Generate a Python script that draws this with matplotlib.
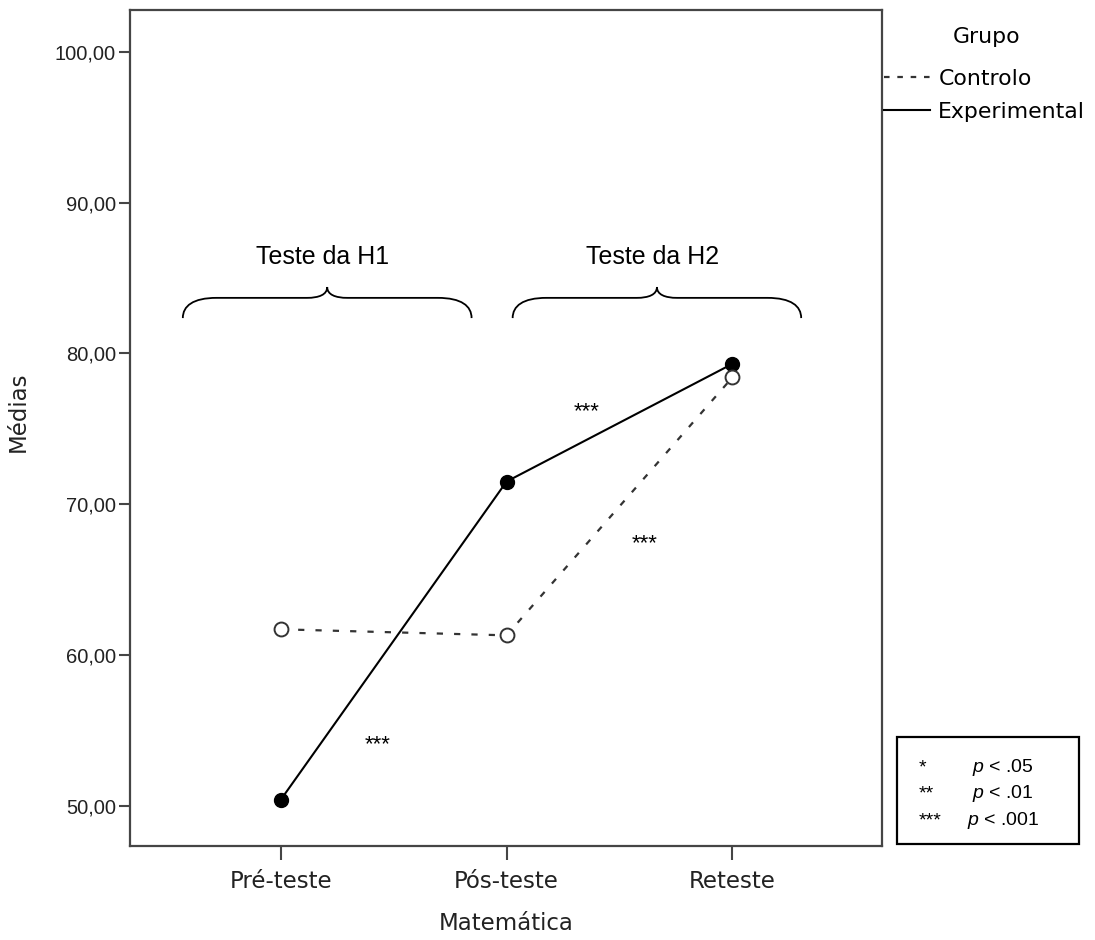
import numpy as np
import matplotlib
matplotlib.use("Agg")
import matplotlib.pyplot as plt
from matplotlib.lines import Line2D
from matplotlib.path import Path
from matplotlib.patches import PathPatch, Rectangle

plt.rcParams['font.family'] = ['DejaVu Sans']
plt.rcParams['mathtext.fontset'] = 'custom'
plt.rcParams['mathtext.it'] = 'Liberation Sans:italic'
plt.rcParams['mathtext.rm'] = 'Liberation Sans'

# medias por momento de avaliacao
momentos = ['Pré-teste', 'Pós-teste', 'Reteste']
experimental = [50.4, 71.5, 79.3]
controlo = [61.7, 61.3, 78.4]
yticks = [50, 60, 70, 80, 90, 100]

# asteriscos de significancia (x, y) e chavetas das hipoteses
estrelas = [(0.43, 53.7), (1.354, 75.8), (1.611, 67.0)]
hipoteses = ['Teste da H1', 'Teste da H2']
chavetas = [(-0.434, 0.845), (1.027, 2.305)]
legenda_p = [('*', r'$p$ < .05'), ('**', r'$p$ < .01'), ('***', r'$p$ < .001')]

W, H = 1095, 940
fig = plt.figure(figsize=(W / 100, H / 100), dpi=100)
ax = fig.add_axes([130 / W, 1 - 846 / H, 752 / W, 836 / H])

x = np.arange(len(momentos))
eixo = '#454545'

ax.plot(x, experimental, color='black', lw=1.5, marker='o', ms=10,
        mfc='black', mec='black', zorder=3)
ax.plot(x, controlo, color='#333333', lw=1.6, ls=(0, (2.8, 5.0)), marker='o',
        ms=10, mfc='white', mec='#333333', mew=1.4, zorder=3)

ax.set_xlim(-0.668, 2.663)
ax.set_ylim(47.33, 102.77)
ax.set_xticks(x)
ax.set_xticklabels(momentos, fontsize=16.5)
ax.set_yticks(yticks)
ax.set_yticklabels([f'{v:.2f}'.replace('.', ',') for v in yticks],
                   fontsize=14.5, family='Liberation Sans', color='#222222')
ax.tick_params(axis='y', length=8, width=1.5, color=eixo, pad=2)
ax.tick_params(axis='x', length=10, width=1.5, color=eixo, pad=7, labelcolor='#222222')
for s in ax.spines.values():
    s.set_color(eixo)
    s.set_linewidth(1.6)

ax.set_xlabel('Matemática', fontsize=16.5, labelpad=14, color='#222222')
ax.set_ylabel('Médias', fontsize=16.5, color='#222222')
ax.yaxis.set_label_coords(-0.149, 0.52)
ax.yaxis.label.set_verticalalignment('center')

for (sx, sy) in estrelas:
    ax.text(sx, sy, '***', ha='center', va='baseline', fontsize=16,
            family='Liberation Sans')


def chaveta(ax, x0, x1, ye=82.34, ym=83.68, yt=84.4, r=0.15, rc=0.09):
    xm = (x0 + x1) / 2
    verts = [(x0, ye),
             (x0, ye + 0.6 * (ym - ye)), (x0 + 0.3 * r, ym), (x0 + r, ym),
             (xm - rc, ym),
             (xm - 0.4 * rc, ym), (xm, ym + 0.3 * (yt - ym)), (xm, yt),
             (xm, ym + 0.3 * (yt - ym)), (xm + 0.4 * rc, ym), (xm + rc, ym),
             (x1 - r, ym),
             (x1 - 0.3 * r, ym), (x1, ye + 0.6 * (ym - ye)), (x1, ye)]
    codes = [Path.MOVETO] + [Path.CURVE4] * 3 + [Path.LINETO] + \
            [Path.CURVE4] * 6 + [Path.LINETO] + [Path.CURVE4] * 3
    ax.add_patch(PathPatch(Path(verts, codes), fill=False, lw=1.3,
                           ec='black', clip_on=False))
    return xm


for nome, (x0, x1) in zip(hipoteses, chavetas):
    xm = chaveta(ax, x0, x1)
    ax.text(xm - 0.02, 85.92, nome, ha='center', va='baseline', fontsize=18,
            family='Liberation Sans')

# legenda dos grupos
handles = [Line2D([], [], color='#333333', lw=1.6, ls=(0, (2.5, 3.5))),
           Line2D([], [], color='black', lw=1.5)]
ax.legend(handles, ['Controlo', 'Experimental'], loc='upper left',
          bbox_to_anchor=(1.002, 0.93), frameon=False, fontsize=15.8,
          handlelength=2.1, handletextpad=0.4, borderpad=0,
          borderaxespad=0, labelspacing=0.6)
fig.text(987 / W, 1 - 37 / H, 'Grupo', ha='center', va='center', fontsize=15.8)

# caixa com os niveis de significancia
fig.add_artist(Rectangle((897 / W, 1 - 844 / H), 182 / W, 107 / H,
                         transform=fig.transFigure, fill=False, lw=1.6,
                         ec='black'))
for i, (est, txt) in enumerate(legenda_p):
    yb = 1 - (772 + 26.5 * i) / H
    fig.text(919 / W, yb, est, ha='left', va='baseline', fontsize=14,
             family='Liberation Sans')
    fig.text(1003 / W, yb, txt, ha='center', va='baseline', fontsize=14,
             family='Liberation Sans')

fig.savefig('out.png', dpi=100)
